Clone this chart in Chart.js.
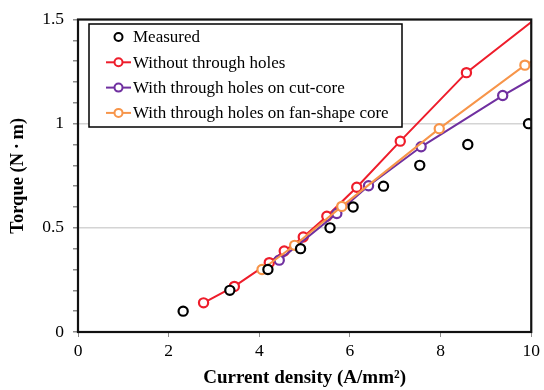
<!DOCTYPE html>
<html>
<head>
<meta charset="utf-8">
<script src="https://cdn.jsdelivr.net/npm/chart.js@4.4.0/dist/chart.umd.min.js"></script>
<style>
  html, body { margin: 0; padding: 0; background: #fff; }
  #wrap { width: 544px; height: 390px; }
</style>
</head>
<body>
<div id="wrap"><canvas id="torqueChart" width="544" height="390"></canvas></div>
<script>
// measured torque vs current density
const measuredX = [2.32, 3.35, 4.19, 4.91, 5.56, 6.07, 6.74, 7.54, 8.60, 9.94];
const measuredY = [0.10, 0.20, 0.30, 0.40, 0.50, 0.60, 0.70, 0.80, 0.90, 1.00];

// simulated, no through holes (last point lies past the axis end)
const solidX = [2.77, 3.45, 4.22, 4.55, 4.97, 5.49, 6.15, 7.11, 8.57, 10.3];
const solidY = [0.140, 0.219, 0.333, 0.389, 0.456, 0.556, 0.695, 0.916, 1.245, 1.539];

// simulated, holes on cut-core
const cutX = [4.44, 5.71, 6.41, 7.57, 9.37, 10.3];
const cutY = [0.345, 0.569, 0.702, 0.889, 1.135, 1.251];

// simulated, holes on fan-shape core
const fanX = [4.06, 4.78, 5.82, 7.97, 9.86, 10.3];
const fanY = [0.300, 0.416, 0.603, 0.976, 1.281, 1.331];

const xTicks = [0, 2, 4, 6, 8, 10];
const yTickLabels = ["0", "0.5", "1", "1.5"];

const seriesLabels = [
  "Measured",
  "Without through holes",
  "With through holes on cut-core",
  "With through holes on fan-shape core"
];
const seriesColors = ["#000000", "#ee1d2b", "#7030a0", "#f7954a"];

const SERIF = "'Liberation Serif', 'Times New Roman', serif";

function toPoints(xs, ys) {
  return xs.map((x, i) => ({ x: x, y: ys[i] }));
}

function isHalf(v) {
  return Math.abs(v * 2 - Math.round(v * 2)) < 1e-6;
}

// black frame round the plot area
const plotFrame = {
  id: "plotFrame",
  afterDatasetsDraw(chart) {
    const a = chart.chartArea;
    const ctx = chart.ctx;
    ctx.save();
    ctx.strokeStyle = "#111";
    ctx.lineWidth = 2.2;
    ctx.strokeRect(a.left, a.top, a.right - a.left, a.bottom - a.top);
    ctx.restore();
  }
};

// boxed legend in the upper left of the plot
const boxLegend = {
  id: "boxLegend",
  afterDraw(chart) {
    const ctx = chart.ctx;
    const x0 = 89, y0 = 24, w = 313, h = 103;
    ctx.save();
    ctx.fillStyle = "#fff";
    ctx.fillRect(x0, y0, w, h);
    ctx.strokeStyle = "#000";
    ctx.lineWidth = 1.5;
    ctx.strokeRect(x0, y0, w, h);

    ctx.font = "17px " + SERIF;
    ctx.textBaseline = "middle";
    ctx.textAlign = "left";
    chart.data.datasets.forEach((ds, i) => {
      const cy = 37 + i * 25.3;
      ctx.strokeStyle = ds.borderColor;
      ctx.lineWidth = 2;
      if (ds.showLine) {
        ctx.beginPath();
        ctx.moveTo(106, cy);
        ctx.lineTo(131, cy);
        ctx.stroke();
      }
      ctx.beginPath();
      ctx.arc(118.5, cy, 4, 0, Math.PI * 2);
      ctx.fillStyle = "#fff";
      ctx.fill();
      ctx.stroke();
      ctx.fillStyle = "#000";
      ctx.fillText(ds.label, 133, cy + 1);
    });
    ctx.restore();
  }
};

function series(i, pts, line, order) {
  return {
    label: seriesLabels[i],
    data: pts,
    showLine: line,
    order: order,
    borderColor: seriesColors[i],
    borderWidth: 2,
    pointRadius: 4.6,
    pointHoverRadius: 4.6,
    pointBorderWidth: 2.2,
    pointBackgroundColor: "#fff",
    pointBorderColor: seriesColors[i],
    tension: 0
  };
}

new Chart(document.getElementById("torqueChart").getContext("2d"), {
  type: "scatter",
  data: {
    datasets: [
      series(0, toPoints(measuredX, measuredY), false, 0),
      series(1, toPoints(solidX, solidY), true, 3),
      series(2, toPoints(cutX, cutY), true, 2),
      series(3, toPoints(fanX, fanY), true, 1)
    ]
  },
  options: {
    responsive: false,
    animation: false,
    events: [],
    layout: { padding: { top: 17, right: 10, left: 0, bottom: 0 } },
    plugins: {
      legend: { display: false },
      tooltip: { enabled: false }
    },
    scales: {
      x: {
        type: "linear",
        min: 0,
        max: 10,
        afterBuildTicks: (axis) => { axis.ticks = xTicks.map(v => ({ value: v })); },
        afterFit: (axis) => { axis.height = 58; },
        border: { display: false },
        grid: {
          color: "rgba(0,0,0,0)",
          tickColor: "#8c8c8c",
          tickLength: 5,
          lineWidth: 1
        },
        ticks: {
          color: "#000",
          padding: 4,
          font: { family: SERIF, size: 17.5 },
          maxRotation: 0
        },
        title: {
          display: true,
          text: "Current density (A/mm²)",
          color: "#000",
          font: { family: SERIF, size: 19, weight: "bold" },
          padding: { top: 0, bottom: 1 }
        }
      },
      y: {
        type: "linear",
        min: 0,
        max: 1.5,
        afterFit: (axis) => { axis.width = 78; },
        border: { display: false },
        grid: {
          color: (c) => (c.tick && isHalf(c.tick.value) ? "#d4d4d4" : "rgba(0,0,0,0)"),
          lineWidth: 1.5,
          tickColor: "#8c8c8c",
          tickLength: 5
        },
        ticks: {
          stepSize: 0.1,
          autoSkip: false,
          color: "#000",
          padding: 9,
          font: { family: SERIF, size: 17.5 },
          callback: (v) => (isHalf(v) ? yTickLabels[Math.round(v * 2)] : "")
        },
        title: {
          display: true,
          text: "Torque (N\u2009·\u2009m)",
          color: "#000",
          font: { family: SERIF, size: 18.5, weight: "bold" },
          padding: { top: 7, bottom: 0 }
        }
      }
    }
  },
  plugins: [plotFrame, boxLegend]
});
</script>
</body>
</html>
